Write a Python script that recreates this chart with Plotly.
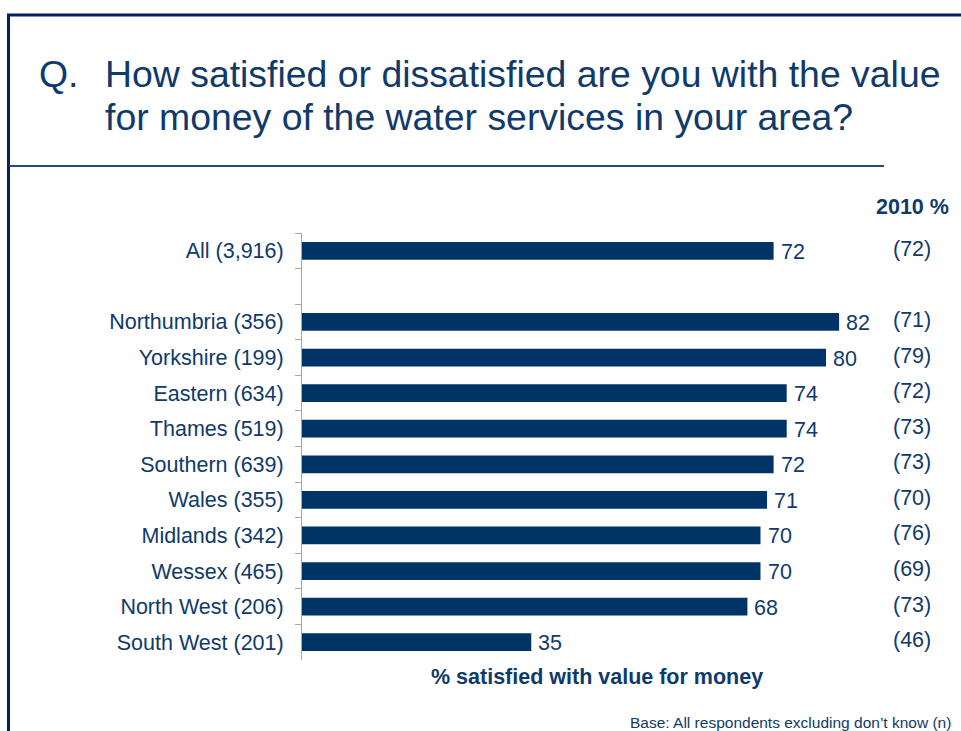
import plotly.graph_objects as go

W, H = 961, 731
NAVY = "#003366"
TEXT = "#0f3a6a"
FRAME = "#002060"
RULE = "#1f4a7c"
AXIS = "#a6a6a6"
FONT = "Liberation Sans, Arial, sans-serif"

# Survey groups (respondent base in brackets); the blank entry is a spacer row
groups = [
    "All (3,916)", " ",
    "Northumbria (356)", "Yorkshire (199)", "Eastern (634)", "Thames (519)",
    "Southern (639)", "Wales (355)", "Midlands (342)", "Wessex (465)",
    "North West (206)", "South West (201)",
]
# % satisfied with value for money, current wave
satisfied_pct = [72, None, 82, 80, 74, 74, 72, 71, 70, 70, 68, 35]
# % satisfied in 2010, shown for comparison
satisfied_2010 = [72, None, 71, 79, 72, 73, 73, 70, 76, 69, 73, 46]

title_lines = [
    "How satisfied or dissatisfied are you with the value",
    "for money of the water services in your area?",
]
x_title = "% satisfied with value for money"
base_note = "Base: All respondents excluding don\u2019t know (n)"


def px_x(v):
    return v / W


def px_y(v):
    return 1 - v / H


fig = go.Figure(
    go.Bar(
        x=satisfied_pct,
        y=groups,
        orientation="h",
        width=0.5,
        marker=dict(color=NAVY, line=dict(width=0)),
        hoverinfo="skip",
    )
)

annotations = []
for g, v, old in zip(groups, satisfied_pct, satisfied_2010):
    if v is None:
        continue
    annotations.append(dict(
        x=v, y=g, xref="x", yref="y", text=str(v), showarrow=False,
        xanchor="left", yanchor="middle", xshift=5, yshift=-1,
        font=dict(size=21.5, color=TEXT, family=FONT),
    ))
    annotations.append(dict(
        x=px_x(912), y=g, xref="paper", yref="y", text=f"({old})",
        showarrow=False, xanchor="center", yanchor="middle", yshift=2,
        font=dict(size=21.5, color=TEXT, family=FONT),
    ))

annotations += [
    dict(x=px_x(912), y=px_y(207), xref="paper", yref="paper", text="<b>2010 %</b>",
         showarrow=False, xanchor="center", yanchor="middle",
         font=dict(size=21.5, color=TEXT, family=FONT)),
    dict(x=px_x(597), y=px_y(677), xref="paper", yref="paper", text=f"<b>{x_title}</b>",
         showarrow=False, xanchor="center", yanchor="middle",
         font=dict(size=21.5, color=TEXT, family=FONT)),
    dict(x=px_x(37), y=px_y(74), xref="paper", yref="paper", text="Q.",
         showarrow=False, xanchor="left", yanchor="middle",
         font=dict(size=37.4, color=TEXT, family=FONT)),
    dict(x=px_x(103), y=px_y(74), xref="paper", yref="paper", text=title_lines[0],
         showarrow=False, xanchor="left", yanchor="middle",
         font=dict(size=37.4, color=TEXT, family=FONT)),
    dict(x=px_x(103), y=px_y(117), xref="paper", yref="paper", text=title_lines[1],
         showarrow=False, xanchor="left", yanchor="middle",
         font=dict(size=37.4, color=TEXT, family=FONT)),
    dict(x=px_x(628), y=px_y(733), xref="paper", yref="paper", text=base_note,
         showarrow=False, xanchor="left", yanchor="bottom",
         font=dict(size=15.5, color=TEXT, family=FONT)),
]

shapes = [
    # slide frame: top and left edges
    dict(type="line", xref="paper", yref="paper", x0=px_x(7), x1=1.01,
         y0=px_y(15), y1=px_y(15), line=dict(color=FRAME, width=3)),
    dict(type="line", xref="paper", yref="paper", x0=px_x(8.5), x1=px_x(8.5),
         y0=px_y(14), y1=-0.01, line=dict(color=FRAME, width=3)),
    # rule under the question
    dict(type="line", xref="paper", yref="paper", x0=px_x(9), x1=px_x(884),
         y0=px_y(166), y1=px_y(166), line=dict(color=RULE, width=2)),
]

fig.update_layout(
    width=W, height=H, autosize=False,
    margin=dict(l=0, r=0, t=0, b=0, pad=0),
    paper_bgcolor="white", plot_bgcolor="white",
    showlegend=False,
    font=dict(family=FONT, color=TEXT),
    xaxis=dict(
        range=[0, 100], domain=[px_x(302), px_x(957)],
        visible=False, showgrid=False, zeroline=False, fixedrange=True,
    ),
    yaxis=dict(
        type="category", categoryorder="array", categoryarray=groups,
        autorange="reversed", domain=[px_y(660), px_y(233)],
        tickson="boundaries", ticks="outside", ticklen=6, tickwidth=1,
        tickcolor=AXIS, showline=True, linecolor=AXIS, linewidth=1,
        showgrid=False, zeroline=False, fixedrange=True,
        ticklabelstandoff=13,
        tickfont=dict(size=21.5, color=TEXT, family=FONT),
    ),
    annotations=annotations,
    shapes=shapes,
)

fig.write_html("out.html", config={"displayModeBar": False})
